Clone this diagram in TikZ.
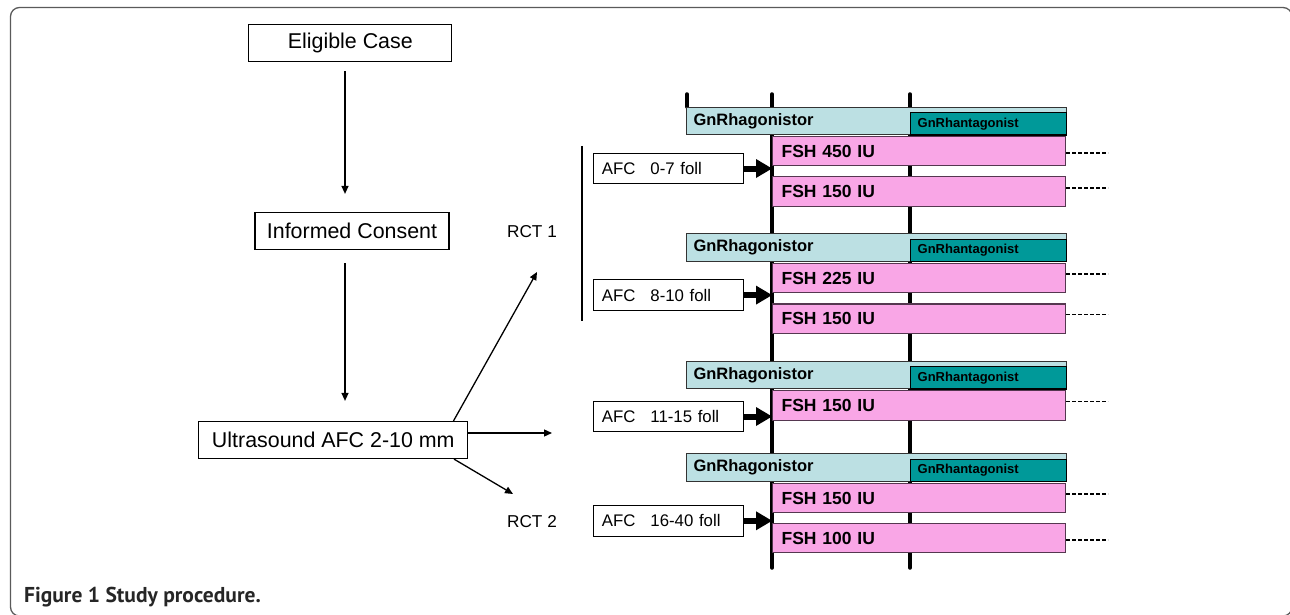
\documentclass[tikz,border=0pt]{standalone}
\usepackage{fontspec}
\setmainfont{Liberation Sans}
\newfontfamily\captionfont{PT Sans}
\usepackage{xcolor}
\usetikzlibrary{arrows.meta,positioning}

\definecolor{agonistblue}{RGB}{188,224,227}
\definecolor{antagonistteal}{RGB}{0,153,153}
\definecolor{fshpink}{RGB}{249,166,230}
\definecolor{fshborder}{RGB}{85,55,80}
\definecolor{framegray}{RGB}{90,90,90}

\tikzstyle{flowbox} = [draw=black, line width=1.2pt, rectangle, minimum height=37pt, inner sep=0pt, font=\fontsize{21.4}{25}\selectfont]
\tikzstyle{flowarrow} = [line width=1.3pt, -{Triangle[length=8pt,width=7pt]}]
\tikzstyle{rctlabel} = [inner sep=0pt, font=\fontsize{17.2}{20}\selectfont]
\tikzstyle{afcbox} = [draw=black, line width=1.1pt, rectangle, anchor=north west, minimum height=30.5pt, inner xsep=8pt, inner ysep=0pt, text width=134pt, align=left, font=\fontsize{16.8}{19}\selectfont]
\tikzstyle{afcarrow} = [line width=6pt, -{Triangle[length=16pt,width=19pt,line width=0pt]}]
\tikzstyle{agobar} = [draw=black!80, line width=1.1pt, fill=agonistblue, anchor=north west, minimum height=27.6pt, inner xsep=7pt, inner ysep=0pt, text width=366pt, align=left, font=\fontsize{16.5}{19}\selectfont\bfseries]
\tikzstyle{antbar} = [draw=black, line width=1.3pt, fill=antagonistteal, anchor=north west, minimum height=22.3pt, inner xsep=7pt, inner ysep=0pt, text width=142pt, align=left, font=\fontsize{13}{15}\selectfont\bfseries]
\tikzstyle{fshbar} = [draw=fshborder, line width=1.2pt, fill=fshpink, anchor=north west, minimum height=29.5pt, inner xsep=9pt, inner ysep=0pt, text width=275pt, align=left, font=\fontsize{17.5}{20}\selectfont\bfseries]
\tikzstyle{timeline} = [line width=3.5pt, line cap=round]
\tikzstyle{dashline} = [line width=1.4pt, dash pattern=on 4pt off 2pt]

\begin{document}
\begin{tikzpicture}[x=1pt,y=-1pt]
\useasboundingbox (0,0) rectangle (1290,615);
\clip (0,0) rectangle (1290,615);
\draw[framegray, line width=1.3pt, rounded corners=9pt] (10.5,7.5) rectangle (1292,616);

% flow chart
\node[flowbox, minimum width=203pt] (elig) at (350.3,43.3) {Eligible Case};
\node[flowbox, minimum width=194pt] (cons) at (352,231) {Informed Consent};
\node[flowbox, minimum width=269pt] (us) at (333.3,440) {Ultrasound AFC 2-10 mm};
\draw[flowarrow, shorten <=9pt, shorten >=18pt] (elig.south -| 345,0) -- (cons.north -| 345,0);
\draw[flowarrow, shorten <=13pt, shorten >=20pt] (cons.south -| 345,0) -- (us.north -| 345,0);

\node[rctlabel] (rct1) at (532,232) {RCT 1};
\node[rctlabel] (rct2) at (532,522) {RCT 2};
\coordinate (toup) at (537,272);
\coordinate (tomid) at (552,433);
\coordinate (todown) at (513,494);
\draw[flowarrow] (us.north -| 453.5,0) -- (toup);
\draw[flowarrow] ([yshift=7pt]us.east) -- (tomid);
\draw[flowarrow] (us.south -| 454,0) -- (todown);
\draw[line width=2.5pt] (582,146) -- (582,321);

% time lines
\draw[timeline] (687,94) -- (687,107);
\draw[timeline] (772,94) -- (772,568);
\draw[timeline] (910,94) -- (910,568);

% GnRh bars
\foreach \i/\y in {1/106.7, 2/233.3, 3/360.7, 4/453.3} {
  \node[agobar] (ago\i) at (686,\y) {GnRhagonistor};
  \node[antbar] (ant\i) at (910,\y+5.3) {GnRhantagonist};
}

% FSH doses
\node[fshbar] (fsh1a) at (772,135.7) {FSH 450 IU};
\node[fshbar] (fsh1b) at (772,176) {FSH 150 IU};
\node[fshbar] (fsh2a) at (772,262.7) {FSH 225 IU};
\node[fshbar] (fsh2b) at (772,303.3) {FSH 150 IU};
\node[fshbar] (fsh3a) at (772,390) {FSH 150 IU};
\node[fshbar] (fsh4a) at (772,482.7) {FSH 150 IU};
\node[fshbar] (fsh4b) at (772,522.7) {FSH 100 IU};
\foreach \b/\s in {fsh1a/-2, fsh1b/3.5, fsh2a/4, fsh2b/4, fsh3a/3.7, fsh4a/4, fsh4b/-2}
  \draw[dashline] ([yshift=\s pt]\b.east) -- ++(42,0);

% antral follicle count groups
\node[afcbox] (afc1) at (593.3,152.7) {AFC\hspace{15pt}0-7 foll};
\node[afcbox] (afc2) at (593.3,279.3) {AFC\hspace{15pt}8-10 foll};
\node[afcbox] (afc3) at (593.3,400.7) {AFC\hspace{15pt}11-15 foll};
\node[afcbox] (afc4) at (593.3,505) {AFC\hspace{15pt}16-40 foll};
\foreach \a in {afc1,afc2,afc3,afc4}
  \draw[afcarrow] (\a.east) -- (\a.east -| 772,0);

\node[anchor=west, inner sep=0pt, text=black!85, font=\captionfont\bfseries\fontsize{21.5}{24}\selectfont] (caption) at (24,597) {Figure 1 Study procedure.};
\end{tikzpicture}
\end{document}
